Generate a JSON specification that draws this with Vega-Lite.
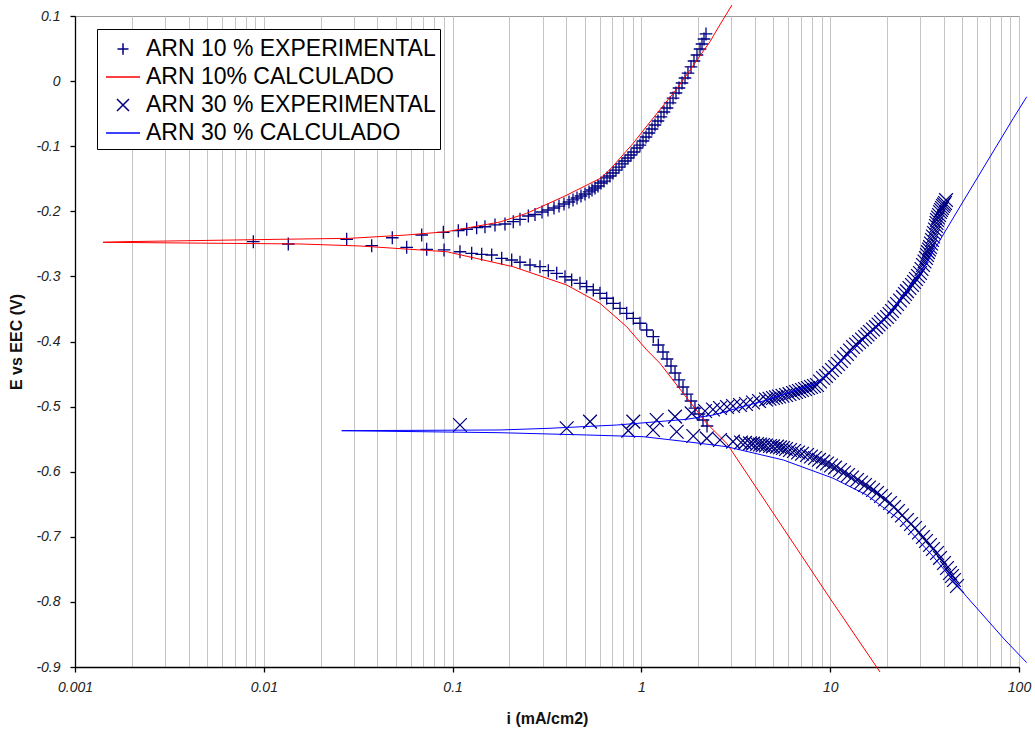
{
  "$schema": "https://vega.github.io/schema/vega-lite/v6.json",
  "width": 944,
  "height": 651,
  "autosize": {"type": "none"},
  "padding": {"left": 75, "top": 16, "right": 16, "bottom": 62},
  "background": "white",
  "config": {
    "view": {"stroke": "#9a9a9a", "strokeWidth": 1},
    "font": "Liberation Sans"
  },
  "datasets": {
    "a": [
      {"serie": "ARN 10 % EXPERIMENTAL", "i": 0.0088, "E": -0.2467},
      {"serie": "ARN 10 % EXPERIMENTAL", "i": 0.01348, "E": -0.2502},
      {"serie": "ARN 10 % EXPERIMENTAL", "i": 0.02748, "E": -0.2430},
      {"serie": "ARN 10 % EXPERIMENTAL", "i": 0.03728, "E": -0.2528},
      {"serie": "ARN 10 % EXPERIMENTAL", "i": 0.04793, "E": -0.2406},
      {"serie": "ARN 10 % EXPERIMENTAL", "i": 0.05713, "E": -0.2553},
      {"serie": "ARN 10 % EXPERIMENTAL", "i": 0.0686, "E": -0.2364},
      {"serie": "ARN 10 % EXPERIMENTAL", "i": 0.07291, "E": -0.2584},
      {"serie": "ARN 10 % EXPERIMENTAL", "i": 0.0893, "E": -0.2323},
      {"serie": "ARN 10 % EXPERIMENTAL", "i": 0.0901, "E": -0.2594},
      {"serie": "ARN 10 % EXPERIMENTAL", "i": 0.1072, "E": -0.2298},
      {"serie": "ARN 10 % EXPERIMENTAL", "i": 0.1094, "E": -0.2621},
      {"serie": "ARN 10 % EXPERIMENTAL", "i": 0.1188, "E": -0.2276},
      {"serie": "ARN 10 % EXPERIMENTAL", "i": 0.1341, "E": -0.2252},
      {"serie": "ARN 10 % EXPERIMENTAL", "i": 0.1484, "E": -0.2237},
      {"serie": "ARN 10 % EXPERIMENTAL", "i": 0.1677, "E": -0.2210},
      {"serie": "ARN 10 % EXPERIMENTAL", "i": 0.1894, "E": -0.2195},
      {"serie": "ARN 10 % EXPERIMENTAL", "i": 0.2096, "E": -0.2160},
      {"serie": "ARN 10 % EXPERIMENTAL", "i": 0.2275, "E": -0.2123},
      {"serie": "ARN 10 % EXPERIMENTAL", "i": 0.2518, "E": -0.2072},
      {"serie": "ARN 10 % EXPERIMENTAL", "i": 0.2732, "E": -0.2049},
      {"serie": "ARN 10 % EXPERIMENTAL", "i": 0.2976, "E": -0.2011},
      {"serie": "ARN 10 % EXPERIMENTAL", "i": 0.3201, "E": -0.1980},
      {"serie": "ARN 10 % EXPERIMENTAL", "i": 0.3444, "E": -0.1949},
      {"serie": "ARN 10 % EXPERIMENTAL", "i": 0.3661, "E": -0.1919},
      {"serie": "ARN 10 % EXPERIMENTAL", "i": 0.389, "E": -0.1888},
      {"serie": "ARN 10 % EXPERIMENTAL", "i": 0.4135, "E": -0.1857},
      {"serie": "ARN 10 % EXPERIMENTAL", "i": 0.4342, "E": -0.1826},
      {"serie": "ARN 10 % EXPERIMENTAL", "i": 0.4559, "E": -0.1796},
      {"serie": "ARN 10 % EXPERIMENTAL", "i": 0.4786, "E": -0.1765},
      {"serie": "ARN 10 % EXPERIMENTAL", "i": 0.5026, "E": -0.1734},
      {"serie": "ARN 10 % EXPERIMENTAL", "i": 0.5279, "E": -0.1703},
      {"serie": "ARN 10 % EXPERIMENTAL", "i": 0.5474, "E": -0.1673},
      {"serie": "ARN 10 % EXPERIMENTAL", "i": 0.5678, "E": -0.1642},
      {"serie": "ARN 10 % EXPERIMENTAL", "i": 0.589, "E": -0.1611},
      {"serie": "ARN 10 % EXPERIMENTAL", "i": 0.6109, "E": -0.1565},
      {"serie": "ARN 10 % EXPERIMENTAL", "i": 0.6337, "E": -0.1535},
      {"serie": "ARN 10 % EXPERIMENTAL", "i": 0.6573, "E": -0.1488},
      {"serie": "ARN 10 % EXPERIMENTAL", "i": 0.6818, "E": -0.1458},
      {"serie": "ARN 10 % EXPERIMENTAL", "i": 0.7072, "E": -0.1412},
      {"serie": "ARN 10 % EXPERIMENTAL", "i": 0.7336, "E": -0.1366},
      {"serie": "ARN 10 % EXPERIMENTAL", "i": 0.7609, "E": -0.1320},
      {"serie": "ARN 10 % EXPERIMENTAL", "i": 0.789, "E": -0.1273},
      {"serie": "ARN 10 % EXPERIMENTAL", "i": 0.8185, "E": -0.1227},
      {"serie": "ARN 10 % EXPERIMENTAL", "i": 0.8492, "E": -0.1181},
      {"serie": "ARN 10 % EXPERIMENTAL", "i": 0.8808, "E": -0.1135},
      {"serie": "ARN 10 % EXPERIMENTAL", "i": 0.9137, "E": -0.1089},
      {"serie": "ARN 10 % EXPERIMENTAL", "i": 0.9478, "E": -0.1028},
      {"serie": "ARN 10 % EXPERIMENTAL", "i": 0.983, "E": -0.0982},
      {"serie": "ARN 10 % EXPERIMENTAL", "i": 1.020, "E": -0.0920},
      {"serie": "ARN 10 % EXPERIMENTAL", "i": 1.058, "E": -0.0859},
      {"serie": "ARN 10 % EXPERIMENTAL", "i": 1.097, "E": -0.0797},
      {"serie": "ARN 10 % EXPERIMENTAL", "i": 1.138, "E": -0.0736},
      {"serie": "ARN 10 % EXPERIMENTAL", "i": 1.180, "E": -0.0674},
      {"serie": "ARN 10 % EXPERIMENTAL", "i": 1.224, "E": -0.0613},
      {"serie": "ARN 10 % EXPERIMENTAL", "i": 1.270, "E": -0.0551},
      {"serie": "ARN 10 % EXPERIMENTAL", "i": 1.317, "E": -0.0475},
      {"serie": "ARN 10 % EXPERIMENTAL", "i": 1.367, "E": -0.0413},
      {"serie": "ARN 10 % EXPERIMENTAL", "i": 1.418, "E": -0.0336},
      {"serie": "ARN 10 % EXPERIMENTAL", "i": 1.471, "E": -0.0260},
      {"serie": "ARN 10 % EXPERIMENTAL", "i": 1.525, "E": -0.0183},
      {"serie": "ARN 10 % EXPERIMENTAL", "i": 1.582, "E": -0.0106},
      {"serie": "ARN 10 % EXPERIMENTAL", "i": 1.641, "E": -0.0029},
      {"serie": "ARN 10 % EXPERIMENTAL", "i": 1.702, "E": 0.0048},
      {"serie": "ARN 10 % EXPERIMENTAL", "i": 1.765, "E": 0.0124},
      {"serie": "ARN 10 % EXPERIMENTAL", "i": 1.831, "E": 0.0217},
      {"serie": "ARN 10 % EXPERIMENTAL", "i": 1.899, "E": 0.0309},
      {"serie": "ARN 10 % EXPERIMENTAL", "i": 1.970, "E": 0.0401},
      {"serie": "ARN 10 % EXPERIMENTAL", "i": 2.044, "E": 0.0493},
      {"serie": "ARN 10 % EXPERIMENTAL", "i": 2.094, "E": 0.0570},
      {"serie": "ARN 10 % EXPERIMENTAL", "i": 2.146, "E": 0.0647},
      {"serie": "ARN 10 % EXPERIMENTAL", "i": 2.199, "E": 0.0724},
      {"serie": "ARN 10 % EXPERIMENTAL", "i": 0.1262, "E": -0.2645},
      {"serie": "ARN 10 % EXPERIMENTAL", "i": 0.1426, "E": -0.2661},
      {"serie": "ARN 10 % EXPERIMENTAL", "i": 0.1611, "E": -0.2671},
      {"serie": "ARN 10 % EXPERIMENTAL", "i": 0.182, "E": -0.2722},
      {"serie": "ARN 10 % EXPERIMENTAL", "i": 0.2056, "E": -0.2748},
      {"serie": "ARN 10 % EXPERIMENTAL", "i": 0.2275, "E": -0.2783},
      {"serie": "ARN 10 % EXPERIMENTAL", "i": 0.257, "E": -0.2825},
      {"serie": "ARN 10 % EXPERIMENTAL", "i": 0.2903, "E": -0.2851},
      {"serie": "ARN 10 % EXPERIMENTAL", "i": 0.3213, "E": -0.2912},
      {"serie": "ARN 10 % EXPERIMENTAL", "i": 0.356, "E": -0.2952},
      {"serie": "ARN 10 % EXPERIMENTAL", "i": 0.3938, "E": -0.3005},
      {"serie": "ARN 10 % EXPERIMENTAL", "i": 0.4273, "E": -0.3055},
      {"serie": "ARN 10 % EXPERIMENTAL", "i": 0.4728, "E": -0.3106},
      {"serie": "ARN 10 % EXPERIMENTAL", "i": 0.5131, "E": -0.3158},
      {"serie": "ARN 10 % EXPERIMENTAL", "i": 0.5562, "E": -0.3209},
      {"serie": "ARN 10 % EXPERIMENTAL", "i": 0.6035, "E": -0.3260},
      {"serie": "ARN 10 % EXPERIMENTAL", "i": 0.6549, "E": -0.3336},
      {"serie": "ARN 10 % EXPERIMENTAL", "i": 0.7098, "E": -0.3413},
      {"serie": "ARN 10 % EXPERIMENTAL", "i": 0.7702, "E": -0.3490},
      {"serie": "ARN 10 % EXPERIMENTAL", "i": 0.8359, "E": -0.3567},
      {"serie": "ARN 10 % EXPERIMENTAL", "i": 0.906, "E": -0.3644},
      {"serie": "ARN 10 % EXPERIMENTAL", "i": 0.983, "E": -0.3720},
      {"serie": "ARN 10 % EXPERIMENTAL", "i": 1.067, "E": -0.3823},
      {"serie": "ARN 10 % EXPERIMENTAL", "i": 1.156, "E": -0.3926},
      {"serie": "ARN 10 % EXPERIMENTAL", "i": 1.229, "E": -0.4054},
      {"serie": "ARN 10 % EXPERIMENTAL", "i": 1.301, "E": -0.4161},
      {"serie": "ARN 10 % EXPERIMENTAL", "i": 1.367, "E": -0.4269},
      {"serie": "ARN 10 % EXPERIMENTAL", "i": 1.435, "E": -0.4376},
      {"serie": "ARN 10 % EXPERIMENTAL", "i": 1.507, "E": -0.4484},
      {"serie": "ARN 10 % EXPERIMENTAL", "i": 1.582, "E": -0.4591},
      {"serie": "ARN 10 % EXPERIMENTAL", "i": 1.661, "E": -0.4699},
      {"serie": "ARN 10 % EXPERIMENTAL", "i": 1.744, "E": -0.4807},
      {"serie": "ARN 10 % EXPERIMENTAL", "i": 1.831, "E": -0.4914},
      {"serie": "ARN 10 % EXPERIMENTAL", "i": 1.922, "E": -0.5022},
      {"serie": "ARN 10 % EXPERIMENTAL", "i": 2.019, "E": -0.5114},
      {"serie": "ARN 10 % EXPERIMENTAL", "i": 2.12, "E": -0.5206},
      {"serie": "ARN 10 % EXPERIMENTAL", "i": 2.226, "E": -0.5298}
    ],
    "b": [
      {"serie": "ARN 10% CALCULADO", "i": 3.019, "E": 0.1169},
      {"serie": "ARN 10% CALCULADO", "i": 2.545, "E": 0.0816},
      {"serie": "ARN 10% CALCULADO", "i": 2.308, "E": 0.0605},
      {"serie": "ARN 10% CALCULADO", "i": 1.538, "E": -0.0121},
      {"serie": "ARN 10% CALCULADO", "i": 1.111, "E": -0.0628},
      {"serie": "ARN 10% CALCULADO", "i": 0.9026, "E": -0.0959},
      {"serie": "ARN 10% CALCULADO", "i": 0.682, "E": -0.1358},
      {"serie": "ARN 10% CALCULADO", "i": 0.6035, "E": -0.1496},
      {"serie": "ARN 10% CALCULADO", "i": 0.3938, "E": -0.1765},
      {"serie": "ARN 10% CALCULADO", "i": 0.2469, "E": -0.2031},
      {"serie": "ARN 10% CALCULADO", "i": 0.1783, "E": -0.2164},
      {"serie": "ARN 10% CALCULADO", "i": 0.0931, "E": -0.2313},
      {"serie": "ARN 10% CALCULADO", "i": 0.0571, "E": -0.2364},
      {"serie": "ARN 10% CALCULADO", "i": 0.0286, "E": -0.2415},
      {"serie": "ARN 10% CALCULADO", "i": 0.01219, "E": -0.2430},
      {"serie": "ARN 10% CALCULADO", "i": 0.001795, "E": -0.2467},
      {"serie": "ARN 10% CALCULADO", "i": 0.001407, "E": -0.2476},
      {"serie": "ARN 10% CALCULADO", "i": 0.01555, "E": -0.2502},
      {"serie": "ARN 10% CALCULADO", "i": 0.0323, "E": -0.2533},
      {"serie": "ARN 10% CALCULADO", "i": 0.0931, "E": -0.2621},
      {"serie": "ARN 10% CALCULADO", "i": 0.2089, "E": -0.2851},
      {"serie": "ARN 10% CALCULADO", "i": 0.4021, "E": -0.3132},
      {"serie": "ARN 10% CALCULADO", "i": 0.6035, "E": -0.3413},
      {"serie": "ARN 10% CALCULADO", "i": 0.8359, "E": -0.3773},
      {"serie": "ARN 10% CALCULADO", "i": 1.067, "E": -0.4130},
      {"serie": "ARN 10% CALCULADO", "i": 1.254, "E": -0.4335},
      {"serie": "ARN 10% CALCULADO", "i": 1.661, "E": -0.4791},
      {"serie": "ARN 10% CALCULADO", "i": 2.218, "E": -0.5257},
      {"serie": "ARN 10% CALCULADO", "i": 2.83, "E": -0.5564},
      {"serie": "ARN 10% CALCULADO", "i": 4.609, "E": -0.6485},
      {"serie": "ARN 10% CALCULADO", "i": 9.975, "E": -0.7945},
      {"serie": "ARN 10% CALCULADO", "i": 18.36, "E": -0.9077}
    ],
    "c": [
      {"serie": "ARN 30 % EXPERIMENTAL", "i": 0.1094, "E": -0.5283},
      {"serie": "ARN 30 % EXPERIMENTAL", "i": 0.4021, "E": -0.5333},
      {"serie": "ARN 30 % EXPERIMENTAL", "i": 0.5344, "E": -0.5232},
      {"serie": "ARN 30 % EXPERIMENTAL", "i": 0.906, "E": -0.5232},
      {"serie": "ARN 30 % EXPERIMENTAL", "i": 1.205, "E": -0.5206},
      {"serie": "ARN 30 % EXPERIMENTAL", "i": 1.507, "E": -0.5155},
      {"serie": "ARN 30 % EXPERIMENTAL", "i": 1.847, "E": -0.5103},
      {"serie": "ARN 30 % EXPERIMENTAL", "i": 2.172, "E": -0.5068},
      {"serie": "ARN 30 % EXPERIMENTAL", "i": 2.394, "E": -0.5045},
      {"serie": "ARN 30 % EXPERIMENTAL", "i": 2.608, "E": -0.5022},
      {"serie": "ARN 30 % EXPERIMENTAL", "i": 2.841, "E": -0.5006},
      {"serie": "ARN 30 % EXPERIMENTAL", "i": 3.057, "E": -0.4991},
      {"serie": "ARN 30 % EXPERIMENTAL", "i": 3.329, "E": -0.4975},
      {"serie": "ARN 30 % EXPERIMENTAL", "i": 3.581, "E": -0.4960},
      {"serie": "ARN 30 % EXPERIMENTAL", "i": 3.9, "E": -0.4937},
      {"serie": "ARN 30 % EXPERIMENTAL", "i": 4.197, "E": -0.4914},
      {"serie": "ARN 30 % EXPERIMENTAL", "i": 4.571, "E": -0.4891},
      {"serie": "ARN 30 % EXPERIMENTAL", "i": 4.771, "E": -0.4879},
      {"serie": "ARN 30 % EXPERIMENTAL", "i": 4.977, "E": -0.4868},
      {"serie": "ARN 30 % EXPERIMENTAL", "i": 5.163, "E": -0.4856},
      {"serie": "ARN 30 % EXPERIMENTAL", "i": 5.357, "E": -0.4845},
      {"serie": "ARN 30 % EXPERIMENTAL", "i": 5.588, "E": -0.4833},
      {"serie": "ARN 30 % EXPERIMENTAL", "i": 5.834, "E": -0.4822},
      {"serie": "ARN 30 % EXPERIMENTAL", "i": 6.087, "E": -0.4807},
      {"serie": "ARN 30 % EXPERIMENTAL", "i": 6.353, "E": -0.4791},
      {"serie": "ARN 30 % EXPERIMENTAL", "i": 6.591, "E": -0.4776},
      {"serie": "ARN 30 % EXPERIMENTAL", "i": 6.835, "E": -0.4760},
      {"serie": "ARN 30 % EXPERIMENTAL", "i": 7.089, "E": -0.4745},
      {"serie": "ARN 30 % EXPERIMENTAL", "i": 7.355, "E": -0.4730},
      {"serie": "ARN 30 % EXPERIMENTAL", "i": 7.627, "E": -0.4714},
      {"serie": "ARN 30 % EXPERIMENTAL", "i": 7.912, "E": -0.4699},
      {"serie": "ARN 30 % EXPERIMENTAL", "i": 8.209, "E": -0.4684},
      {"serie": "ARN 30 % EXPERIMENTAL", "i": 8.514, "E": -0.4668},
      {"serie": "ARN 30 % EXPERIMENTAL", "i": 8.831, "E": -0.4614},
      {"serie": "ARN 30 % EXPERIMENTAL", "i": 9.16, "E": -0.4561},
      {"serie": "ARN 30 % EXPERIMENTAL", "i": 9.502, "E": -0.4530},
      {"serie": "ARN 30 % EXPERIMENTAL", "i": 9.853, "E": -0.4484},
      {"serie": "ARN 30 % EXPERIMENTAL", "i": 10.22, "E": -0.4438},
      {"serie": "ARN 30 % EXPERIMENTAL", "i": 10.6, "E": -0.4392},
      {"serie": "ARN 30 % EXPERIMENTAL", "i": 11.0, "E": -0.4346},
      {"serie": "ARN 30 % EXPERIMENTAL", "i": 11.41, "E": -0.4300},
      {"serie": "ARN 30 % EXPERIMENTAL", "i": 11.83, "E": -0.4246},
      {"serie": "ARN 30 % EXPERIMENTAL", "i": 12.27, "E": -0.4192},
      {"serie": "ARN 30 % EXPERIMENTAL", "i": 12.73, "E": -0.4138},
      {"serie": "ARN 30 % EXPERIMENTAL", "i": 13.21, "E": -0.4085},
      {"serie": "ARN 30 % EXPERIMENTAL", "i": 13.7, "E": -0.4046},
      {"serie": "ARN 30 % EXPERIMENTAL", "i": 14.21, "E": -0.4008},
      {"serie": "ARN 30 % EXPERIMENTAL", "i": 14.74, "E": -0.3969},
      {"serie": "ARN 30 % EXPERIMENTAL", "i": 15.29, "E": -0.3931},
      {"serie": "ARN 30 % EXPERIMENTAL", "i": 15.76, "E": -0.3892},
      {"serie": "ARN 30 % EXPERIMENTAL", "i": 16.25, "E": -0.3854},
      {"serie": "ARN 30 % EXPERIMENTAL", "i": 16.86, "E": -0.3816},
      {"serie": "ARN 30 % EXPERIMENTAL", "i": 17.48, "E": -0.3778},
      {"serie": "ARN 30 % EXPERIMENTAL", "i": 18.03, "E": -0.3739},
      {"serie": "ARN 30 % EXPERIMENTAL", "i": 18.58, "E": -0.3701},
      {"serie": "ARN 30 % EXPERIMENTAL", "i": 19.28, "E": -0.3662},
      {"serie": "ARN 30 % EXPERIMENTAL", "i": 19.99, "E": -0.3624},
      {"serie": "ARN 30 % EXPERIMENTAL", "i": 20.61, "E": -0.3578},
      {"serie": "ARN 30 % EXPERIMENTAL", "i": 21.25, "E": -0.3532},
      {"serie": "ARN 30 % EXPERIMENTAL", "i": 21.91, "E": -0.3478},
      {"serie": "ARN 30 % EXPERIMENTAL", "i": 22.59, "E": -0.3424},
      {"serie": "ARN 30 % EXPERIMENTAL", "i": 23.43, "E": -0.3370},
      {"serie": "ARN 30 % EXPERIMENTAL", "i": 24.3, "E": -0.3317},
      {"serie": "ARN 30 % EXPERIMENTAL", "i": 24.9, "E": -0.3270},
      {"serie": "ARN 30 % EXPERIMENTAL", "i": 25.51, "E": -0.3225},
      {"serie": "ARN 30 % EXPERIMENTAL", "i": 26.3, "E": -0.3178},
      {"serie": "ARN 30 % EXPERIMENTAL", "i": 27.12, "E": -0.3132},
      {"serie": "ARN 30 % EXPERIMENTAL", "i": 27.79, "E": -0.3086},
      {"serie": "ARN 30 % EXPERIMENTAL", "i": 28.47, "E": -0.3040},
      {"serie": "ARN 30 % EXPERIMENTAL", "i": 29.17, "E": -0.2994},
      {"serie": "ARN 30 % EXPERIMENTAL", "i": 29.9, "E": -0.2948},
      {"serie": "ARN 30 % EXPERIMENTAL", "i": 30.45, "E": -0.2886},
      {"serie": "ARN 30 % EXPERIMENTAL", "i": 31.01, "E": -0.2825},
      {"serie": "ARN 30 % EXPERIMENTAL", "i": 31.59, "E": -0.2771},
      {"serie": "ARN 30 % EXPERIMENTAL", "i": 32.17, "E": -0.2718},
      {"serie": "ARN 30 % EXPERIMENTAL", "i": 32.56, "E": -0.2671},
      {"serie": "ARN 30 % EXPERIMENTAL", "i": 32.96, "E": -0.2626},
      {"serie": "ARN 30 % EXPERIMENTAL", "i": 33.37, "E": -0.2587},
      {"serie": "ARN 30 % EXPERIMENTAL", "i": 33.78, "E": -0.2549},
      {"serie": "ARN 30 % EXPERIMENTAL", "i": 34.19, "E": -0.2495},
      {"serie": "ARN 30 % EXPERIMENTAL", "i": 34.61, "E": -0.2441},
      {"serie": "ARN 30 % EXPERIMENTAL", "i": 35.04, "E": -0.2387},
      {"serie": "ARN 30 % EXPERIMENTAL", "i": 35.47, "E": -0.2333},
      {"serie": "ARN 30 % EXPERIMENTAL", "i": 35.91, "E": -0.2280},
      {"serie": "ARN 30 % EXPERIMENTAL", "i": 36.35, "E": -0.2226},
      {"serie": "ARN 30 % EXPERIMENTAL", "i": 36.56, "E": -0.2180},
      {"serie": "ARN 30 % EXPERIMENTAL", "i": 36.79, "E": -0.2134},
      {"serie": "ARN 30 % EXPERIMENTAL", "i": 37.24, "E": -0.2095},
      {"serie": "ARN 30 % EXPERIMENTAL", "i": 37.7, "E": -0.2057},
      {"serie": "ARN 30 % EXPERIMENTAL", "i": 38.16, "E": -0.2011},
      {"serie": "ARN 30 % EXPERIMENTAL", "i": 38.63, "E": -0.1980},
      {"serie": "ARN 30 % EXPERIMENTAL", "i": 39.1, "E": -0.1949},
      {"serie": "ARN 30 % EXPERIMENTAL", "i": 39.58, "E": -0.1919},
      {"serie": "ARN 30 % EXPERIMENTAL", "i": 40.07, "E": -0.1896},
      {"serie": "ARN 30 % EXPERIMENTAL", "i": 40.56, "E": -0.1873},
      {"serie": "ARN 30 % EXPERIMENTAL", "i": 41.06, "E": -0.1827},
      {"serie": "ARN 30 % EXPERIMENTAL", "i": 0.852, "E": -0.5370},
      {"serie": "ARN 30 % EXPERIMENTAL", "i": 1.152, "E": -0.5359},
      {"serie": "ARN 30 % EXPERIMENTAL", "i": 1.538, "E": -0.5386},
      {"serie": "ARN 30 % EXPERIMENTAL", "i": 1.883, "E": -0.5452},
      {"serie": "ARN 30 % EXPERIMENTAL", "i": 2.218, "E": -0.5487},
      {"serie": "ARN 30 % EXPERIMENTAL", "i": 2.608, "E": -0.5513},
      {"serie": "ARN 30 % EXPERIMENTAL", "i": 3.056, "E": -0.5539},
      {"serie": "ARN 30 % EXPERIMENTAL", "i": 3.369, "E": -0.5551},
      {"serie": "ARN 30 % EXPERIMENTAL", "i": 3.538, "E": -0.5558},
      {"serie": "ARN 30 % EXPERIMENTAL", "i": 3.76, "E": -0.5564},
      {"serie": "ARN 30 % EXPERIMENTAL", "i": 3.9, "E": -0.5568},
      {"serie": "ARN 30 % EXPERIMENTAL", "i": 4.097, "E": -0.5575},
      {"serie": "ARN 30 % EXPERIMENTAL", "i": 4.249, "E": -0.5582},
      {"serie": "ARN 30 % EXPERIMENTAL", "i": 4.407, "E": -0.5590},
      {"serie": "ARN 30 % EXPERIMENTAL", "i": 4.571, "E": -0.5598},
      {"serie": "ARN 30 % EXPERIMENTAL", "i": 4.8, "E": -0.5605},
      {"serie": "ARN 30 % EXPERIMENTAL", "i": 4.977, "E": -0.5610},
      {"serie": "ARN 30 % EXPERIMENTAL", "i": 5.226, "E": -0.5616},
      {"serie": "ARN 30 % EXPERIMENTAL", "i": 5.422, "E": -0.5625},
      {"serie": "ARN 30 % EXPERIMENTAL", "i": 5.623, "E": -0.5636},
      {"serie": "ARN 30 % EXPERIMENTAL", "i": 5.834, "E": -0.5651},
      {"serie": "ARN 30 % EXPERIMENTAL", "i": 6.125, "E": -0.5667},
      {"serie": "ARN 30 % EXPERIMENTAL", "i": 6.432, "E": -0.5682},
      {"serie": "ARN 30 % EXPERIMENTAL", "i": 6.754, "E": -0.5705},
      {"serie": "ARN 30 % EXPERIMENTAL", "i": 7.089, "E": -0.5724},
      {"serie": "ARN 30 % EXPERIMENTAL", "i": 7.537, "E": -0.5743},
      {"serie": "ARN 30 % EXPERIMENTAL", "i": 7.912, "E": -0.5767},
      {"serie": "ARN 30 % EXPERIMENTAL", "i": 8.31, "E": -0.5790},
      {"serie": "ARN 30 % EXPERIMENTAL", "i": 8.725, "E": -0.5817},
      {"serie": "ARN 30 % EXPERIMENTAL", "i": 9.161, "E": -0.5846},
      {"serie": "ARN 30 % EXPERIMENTAL", "i": 9.618, "E": -0.5874},
      {"serie": "ARN 30 % EXPERIMENTAL", "i": 10.1, "E": -0.5905},
      {"serie": "ARN 30 % EXPERIMENTAL", "i": 10.6, "E": -0.5937},
      {"serie": "ARN 30 % EXPERIMENTAL", "i": 11.27, "E": -0.5974},
      {"serie": "ARN 30 % EXPERIMENTAL", "i": 11.83, "E": -0.6012},
      {"serie": "ARN 30 % EXPERIMENTAL", "i": 12.43, "E": -0.6051},
      {"serie": "ARN 30 % EXPERIMENTAL", "i": 13.05, "E": -0.6089},
      {"serie": "ARN 30 % EXPERIMENTAL", "i": 13.87, "E": -0.6128},
      {"serie": "ARN 30 % EXPERIMENTAL", "i": 14.56, "E": -0.6166},
      {"serie": "ARN 30 % EXPERIMENTAL", "i": 15.29, "E": -0.6204},
      {"serie": "ARN 30 % EXPERIMENTAL", "i": 16.05, "E": -0.6243},
      {"serie": "ARN 30 % EXPERIMENTAL", "i": 16.86, "E": -0.6281},
      {"serie": "ARN 30 % EXPERIMENTAL", "i": 17.7, "E": -0.6327},
      {"serie": "ARN 30 % EXPERIMENTAL", "i": 18.58, "E": -0.6373},
      {"serie": "ARN 30 % EXPERIMENTAL", "i": 19.52, "E": -0.6427},
      {"serie": "ARN 30 % EXPERIMENTAL", "i": 20.74, "E": -0.6481},
      {"serie": "ARN 30 % EXPERIMENTAL", "i": 21.78, "E": -0.6542},
      {"serie": "ARN 30 % EXPERIMENTAL", "i": 22.86, "E": -0.6604},
      {"serie": "ARN 30 % EXPERIMENTAL", "i": 24.01, "E": -0.6673},
      {"serie": "ARN 30 % EXPERIMENTAL", "i": 25.51, "E": -0.6742},
      {"serie": "ARN 30 % EXPERIMENTAL", "i": 26.79, "E": -0.6803},
      {"serie": "ARN 30 % EXPERIMENTAL", "i": 28.13, "E": -0.6865},
      {"serie": "ARN 30 % EXPERIMENTAL", "i": 29.54, "E": -0.6934},
      {"serie": "ARN 30 % EXPERIMENTAL", "i": 31.01, "E": -0.7003},
      {"serie": "ARN 30 % EXPERIMENTAL", "i": 32.17, "E": -0.7065},
      {"serie": "ARN 30 % EXPERIMENTAL", "i": 33.78, "E": -0.7126},
      {"serie": "ARN 30 % EXPERIMENTAL", "i": 35.04, "E": -0.7187},
      {"serie": "ARN 30 % EXPERIMENTAL", "i": 36.79, "E": -0.7249},
      {"serie": "ARN 30 % EXPERIMENTAL", "i": 38.16, "E": -0.7325},
      {"serie": "ARN 30 % EXPERIMENTAL", "i": 40.07, "E": -0.7402},
      {"serie": "ARN 30 % EXPERIMENTAL", "i": 41.56, "E": -0.7479},
      {"serie": "ARN 30 % EXPERIMENTAL", "i": 43.11, "E": -0.7556},
      {"serie": "ARN 30 % EXPERIMENTAL", "i": 44.17, "E": -0.7602},
      {"serie": "ARN 30 % EXPERIMENTAL", "i": 45.26, "E": -0.7664},
      {"serie": "ARN 30 % EXPERIMENTAL", "i": 46.95, "E": -0.7756}
    ],
    "d": [
      {"serie": "ARN 30 % CALCULADO", "i": 109.9, "E": -0.0240},
      {"serie": "ARN 30 % CALCULADO", "i": 93.3, "E": -0.0571},
      {"serie": "ARN 30 % CALCULADO", "i": 55.02, "E": -0.1673},
      {"serie": "ARN 30 % CALCULADO", "i": 38.16, "E": -0.2441},
      {"serie": "ARN 30 % CALCULADO", "i": 29.9, "E": -0.2954},
      {"serie": "ARN 30 % CALCULADO", "i": 19.92, "E": -0.3608},
      {"serie": "ARN 30 % CALCULADO", "i": 13.21, "E": -0.4131},
      {"serie": "ARN 30 % CALCULADO", "i": 8.482, "E": -0.4642},
      {"serie": "ARN 30 % CALCULADO", "i": 4.609, "E": -0.4899},
      {"serie": "ARN 30 % CALCULADO", "i": 2.403, "E": -0.5129},
      {"serie": "ARN 30 % CALCULADO", "i": 1.738, "E": -0.5195},
      {"serie": "ARN 30 % CALCULADO", "i": 0.7401, "E": -0.5283},
      {"serie": "ARN 30 % CALCULADO", "i": 0.3281, "E": -0.5333},
      {"serie": "ARN 30 % CALCULADO", "i": 0.1783, "E": -0.5359},
      {"serie": "ARN 30 % CALCULADO", "i": 0.02586, "E": -0.5370},
      {"serie": "ARN 30 % CALCULADO", "i": 0.1783, "E": -0.5401},
      {"serie": "ARN 30 % CALCULADO", "i": 0.5131, "E": -0.5436},
      {"serie": "ARN 30 % CALCULADO", "i": 1.023, "E": -0.5462},
      {"serie": "ARN 30 % CALCULADO", "i": 1.738, "E": -0.5539},
      {"serie": "ARN 30 % CALCULADO", "i": 2.83, "E": -0.5616},
      {"serie": "ARN 30 % CALCULADO", "i": 5.644, "E": -0.5820},
      {"serie": "ARN 30 % CALCULADO", "i": 10.38, "E": -0.6101},
      {"serie": "ARN 30 % CALCULADO", "i": 15.61, "E": -0.6358},
      {"serie": "ARN 30 % CALCULADO", "i": 23.43, "E": -0.6742},
      {"serie": "ARN 30 % CALCULADO", "i": 35.17, "E": -0.7306},
      {"serie": "ARN 30 % CALCULADO", "i": 52.84, "E": -0.7920},
      {"serie": "ARN 30 % CALCULADO", "i": 84.3, "E": -0.8585},
      {"serie": "ARN 30 % CALCULADO", "i": 109.9, "E": -0.8934}
    ]
  },
  "encoding": {
    "x": {
      "field": "i",
      "type": "quantitative",
      "scale": {"type": "log", "domain": [0.001, 100], "nice": false},
      "axis": {
        "values": [0.001, 0.002, 0.003, 0.004, 0.005, 0.006, 0.007, 0.008, 0.009, 0.01, 0.02, 0.03, 0.04, 0.05, 0.06, 0.07, 0.08, 0.09, 0.1, 0.2, 0.3, 0.4, 0.5, 0.6, 0.7, 0.8, 0.9, 1, 2, 3, 4, 5, 6, 7, 8, 9, 10, 20, 30, 40, 50, 60, 70, 80, 90, 100],
        "grid": true,
        "gridColor": "#c4c4c4",
        "gridWidth": 1,
        "domainColor": "black",
        "domainWidth": 1.3,
        "tickColor": "black",
        "tickSize": 5,
        "tickWidth": 1.3,
        "tickOpacity": {"condition": {"test": "abs(log(datum.value)/LN10 - round(log(datum.value)/LN10)) < 0.001", "value": 1}, "value": 0},
        "labelExpr": "abs(log(datum.value)/LN10 - round(log(datum.value)/LN10)) < 0.001 ? format(datum.value, '~g') : ''",
        "labelFont": "Liberation Sans",
        "labelFontStyle": "italic",
        "labelFontSize": 14,
        "labelColor": "#222222",
        "labelPadding": 8,
        "labelFlush": false,
        "labelOverlap": false,
        "labelBound": false,
        "title": "i (mA/cm2)",
        "titleFont": "Liberation Sans",
        "titleFontWeight": "bold",
        "titleFontSize": 16,
        "titleColor": "#111111",
        "titleY": 51,
        "titleBaseline": "middle"
      }
    },
    "y": {
      "field": "E",
      "type": "quantitative",
      "scale": {"domain": [-0.9, 0.1], "nice": false, "zero": false},
      "axis": {
        "values": [-0.9, -0.8, -0.7, -0.6, -0.5, -0.4, -0.3, -0.2, -0.1, 0, 0.1],
        "grid": false,
        "domainColor": "black",
        "domainWidth": 1.3,
        "tickColor": "black",
        "tickSize": 5,
        "tickWidth": 1.3,
        "labelExpr": "datum.value == 0 ? '0' : (datum.value < 0 ? '-' : '') + format(abs(datum.value), '.1f')",
        "labelFont": "Liberation Sans",
        "labelFontStyle": "italic",
        "labelFontSize": 14,
        "labelColor": "#222222",
        "labelPadding": 10,
        "title": "E vs EEC  (V)",
        "titleFont": "Liberation Sans",
        "titleFontWeight": "bold",
        "titleFontSize": 16,
        "titleColor": "#111111",
        "titleX": -59,
        "titleBaseline": "middle"
      }
    },
    "color": {
      "field": "serie",
      "type": "nominal",
      "scale": {
        "domain": ["ARN 10 % EXPERIMENTAL", "ARN 10% CALCULADO", "ARN 30 % EXPERIMENTAL", "ARN 30 % CALCULADO"],
        "range": ["#000080", "#ff0000", "#000080", "#0000ff"]
      },
      "legend": {
        "title": null,
        "orient": "none",
        "legendX": 22,
        "legendY": 13,
        "fillColor": "white",
        "strokeColor": "black",
        "padding": 4,
        "labelFont": "Liberation Sans",
        "labelFontSize": 23,
        "labelColor": "black",
        "labelLimit": 600,
        "symbolSize": 900,
        "symbolStrokeWidth": 1.5,
        "symbolOffset": 6,
        "rowPadding": 0,
        "labelOffset": 7
      }
    }
  },
  "layer": [
    {
      "data": {"name": "a"},
      "mark": {"type": "point", "filled": false, "size": 1180, "strokeWidth": 1.3, "opacity": 1},
      "encoding": {
        "shape": {
          "field": "serie",
          "type": "nominal",
          "scale": {
            "domain": ["ARN 10 % EXPERIMENTAL", "ARN 10% CALCULADO", "ARN 30 % EXPERIMENTAL", "ARN 30 % CALCULADO"],
            "range": ["M-0.367,0H0.367M0,-0.377V0.377", "M-1.133,0H1.133", "M-0.4,-0.4L0.4,0.4M-0.4,0.4L0.4,-0.4", "M-1.133,0H1.133"]
          },
          "legend": {
            "title": null,
            "orient": "none",
            "legendX": 22,
            "legendY": 13,
            "fillColor": "white",
            "strokeColor": "black",
            "padding": 4,
            "labelFont": "Liberation Sans",
            "labelFontSize": 23,
            "labelColor": "black",
            "labelLimit": 600,
            "symbolSize": 900,
            "symbolStrokeWidth": 1.5,
            "symbolOffset": 6,
            "rowPadding": 0,
            "labelOffset": 7
          }
        }
      }
    },
    {
      "data": {"name": "b"},
      "mark": {"type": "line", "strokeWidth": 1},
      "encoding": {"order": {"field": "E", "type": "quantitative", "sort": "descending"}}
    },
    {
      "data": {"name": "c"},
      "mark": {"type": "point", "filled": false, "size": 1180, "strokeWidth": 1.3, "opacity": 1},
      "encoding": {
        "shape": {
          "field": "serie",
          "type": "nominal",
          "scale": {
            "domain": ["ARN 10 % EXPERIMENTAL", "ARN 10% CALCULADO", "ARN 30 % EXPERIMENTAL", "ARN 30 % CALCULADO"],
            "range": ["M-0.367,0H0.367M0,-0.377V0.377", "M-1.133,0H1.133", "M-0.4,-0.4L0.4,0.4M-0.4,0.4L0.4,-0.4", "M-1.133,0H1.133"]
          },
          "legend": {
            "title": null,
            "orient": "none",
            "legendX": 22,
            "legendY": 13,
            "fillColor": "white",
            "strokeColor": "black",
            "padding": 4,
            "labelFont": "Liberation Sans",
            "labelFontSize": 23,
            "labelColor": "black",
            "labelLimit": 600,
            "symbolSize": 900,
            "symbolStrokeWidth": 1.5,
            "symbolOffset": 6,
            "rowPadding": 0,
            "labelOffset": 7
          }
        }
      }
    },
    {
      "data": {"name": "d"},
      "mark": {"type": "line", "strokeWidth": 1},
      "encoding": {"order": {"field": "E", "type": "quantitative", "sort": "descending"}}
    }
  ]
}
